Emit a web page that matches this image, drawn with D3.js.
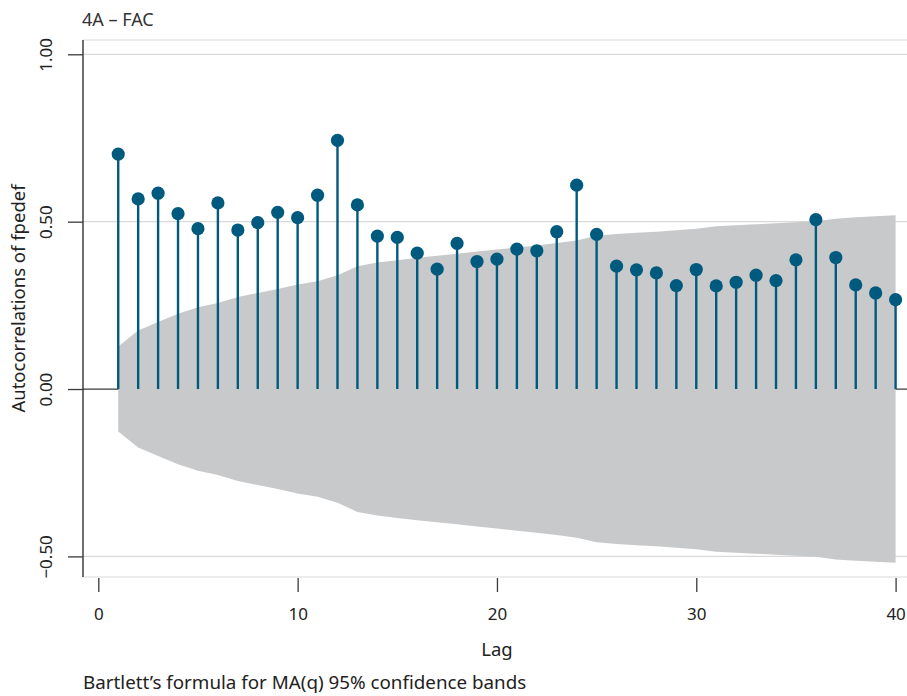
<!DOCTYPE html>
<html>
<head>
<meta charset="utf-8">
<script src="https://cdn.jsdelivr.net/npm/d3@7"></script>
<style>
  html, body { margin: 0; padding: 0; background: #fff; }
  svg { display: block; font-family: "Noto Sans", "Open Sans", sans-serif; }
</style>
</head>
<body>
<svg id="chart" width="907" height="696"></svg>
<script>
// Autocorrelation of fpedef, lags 1..40
const lags = d3.range(1, 41);
const acf = [
  0.702, 0.568, 0.585, 0.524, 0.479, 0.556, 0.475, 0.497, 0.528, 0.512,
  0.579, 0.743, 0.550, 0.457, 0.453, 0.406, 0.358, 0.435, 0.381, 0.388,
  0.418, 0.413, 0.470, 0.609, 0.462, 0.367, 0.356, 0.347, 0.309, 0.357,
  0.308, 0.319, 0.340, 0.324, 0.386, 0.506, 0.393, 0.311, 0.287, 0.267
];
// Half-width of the 95% confidence band (Bartlett's formula for MA(q))
const band = [
  0.127, 0.175, 0.200, 0.225, 0.244, 0.257, 0.275, 0.287, 0.299, 0.312,
  0.322, 0.340, 0.367, 0.378, 0.385, 0.392, 0.398, 0.404, 0.411, 0.417,
  0.423, 0.429, 0.436, 0.444, 0.458, 0.463, 0.467, 0.470, 0.474, 0.479,
  0.486, 0.489, 0.492, 0.495, 0.498, 0.501, 0.509, 0.513, 0.516, 0.519
];
const yTicks = [-0.5, 0, 0.5, 1];
const yTickLabels = ["\u22120.50", "0.00", "0.50", "1.00"];
const xTicks = [0, 10, 20, 30, 40];

const title = "4A \u2013 FAC";
const yTitle = "Autocorrelations of fpedef";
const xTitle = "Lag";
const note = "Bartlett\u2019s formula for MA(q) 95% confidence bands";

const svg = d3.select("#chart");
const plot = { left: 83, right: 907, top: 40, bottom: 577 };

const x = d3.scaleLinear().domain([0, 40]).range([98.3, 895.6]);
const y = d3.scaleLinear().domain([-0.5, 1]).range([556.4, 54.3]);

const stemColor = "#005a7e";
const data = lags.map((l, i) => ({ lag: l, r: acf[i], b: band[i] }));

// plot region frame (top and bottom)
svg.append("line").attr("x1", plot.left).attr("x2", plot.right)
  .attr("y1", plot.top).attr("y2", plot.top)
  .attr("stroke", "#d9d9d9").attr("stroke-width", 1.2);
svg.append("line").attr("x1", plot.left).attr("x2", plot.right)
  .attr("y1", plot.bottom).attr("y2", plot.bottom)
  .attr("stroke", "#d9d9d9").attr("stroke-width", 1.2);

// horizontal gridlines
svg.append("g").selectAll("line").data(yTicks.filter(d => d !== 0)).join("line")
  .attr("x1", plot.left).attr("x2", plot.right)
  .attr("y1", d => y(d)).attr("y2", d => y(d))
  .attr("stroke", "#d9d9d9").attr("stroke-width", 1.2);

// zero reference line
svg.append("line").attr("x1", plot.left).attr("x2", plot.right)
  .attr("y1", y(0)).attr("y2", y(0))
  .attr("stroke", "#3a3a3a").attr("stroke-width", 1.3);

// confidence band
const area = d3.area()
  .x(d => x(d.lag))
  .y0(d => y(-d.b))
  .y1(d => y(d.b));
svg.append("path").datum(data)
  .attr("d", area)
  .attr("fill", "#c8c9cb");

// stems and markers
svg.append("g").selectAll("line").data(data).join("line")
  .attr("x1", d => x(d.lag)).attr("x2", d => x(d.lag))
  .attr("y1", y(0)).attr("y2", d => y(d.r))
  .attr("stroke", stemColor).attr("stroke-width", 2.4);
svg.append("g").selectAll("circle").data(data).join("circle")
  .attr("cx", d => x(d.lag)).attr("cy", d => y(d.r))
  .attr("r", 6.6)
  .attr("fill", stemColor);

// y axis
const yAxisG = svg.append("g").attr("transform", `translate(${plot.left},0)`);
yAxisG.append("line").attr("x1", 0).attr("x2", 0)
  .attr("y1", plot.top).attr("y2", plot.bottom)
  .attr("stroke", "#222").attr("stroke-width", 1.3);
const yAxis = d3.axisLeft(y).tickValues(yTicks).tickSize(15).tickPadding(0)
  .tickFormat((d, i) => yTickLabels[i]);
yAxisG.call(yAxis);
yAxisG.select(".domain").remove();
yAxisG.selectAll(".tick line").attr("stroke", "#3a3a3a").attr("stroke-width", 1.3);
yAxisG.selectAll(".tick text")
  .attr("x", 0).attr("y", 0).attr("dy", null)
  .attr("text-anchor", "middle")
  .attr("transform", "translate(-38,0) rotate(-90)")
  .attr("dominant-baseline", "central")
  .style("font-size", "17px")
  .style("font-family", "'Noto Sans', sans-serif")
  .attr("fill", "#222");

// x axis
const xAxisG = svg.append("g").attr("transform", `translate(0,${plot.bottom + 1})`);
const xAxis = d3.axisBottom(x).tickValues(xTicks).tickSize(14).tickPadding(16)
  .tickFormat(d3.format("d"));
xAxisG.call(xAxis);
xAxisG.select(".domain").remove();
xAxisG.selectAll(".tick line").attr("stroke", "#3a3a3a").attr("stroke-width", 1.3);
xAxisG.selectAll(".tick text")
  .style("font-size", "17px")
  .style("font-family", "'Noto Sans', sans-serif")
  .attr("fill", "#222");

// titles
svg.append("text").attr("x", 82).attr("y", 26)
  .style("font-size", "18px").attr("fill", "#333")
  .text(title);
svg.append("text")
  .attr("transform", `translate(25,${(plot.top + plot.bottom) / 2 - 10}) rotate(-90)`)
  .attr("text-anchor", "middle")
  .style("font-size", "18.5px").attr("fill", "#222")
  .text(yTitle);
svg.append("text").attr("x", x(20)).attr("y", 656)
  .attr("text-anchor", "middle")
  .style("font-size", "18.5px").attr("fill", "#222")
  .text(xTitle);
svg.append("text").attr("x", 83).attr("y", 689)
  .style("font-size", "18.8px").attr("fill", "#222")
  .text(note);
</script>
</body>
</html>
